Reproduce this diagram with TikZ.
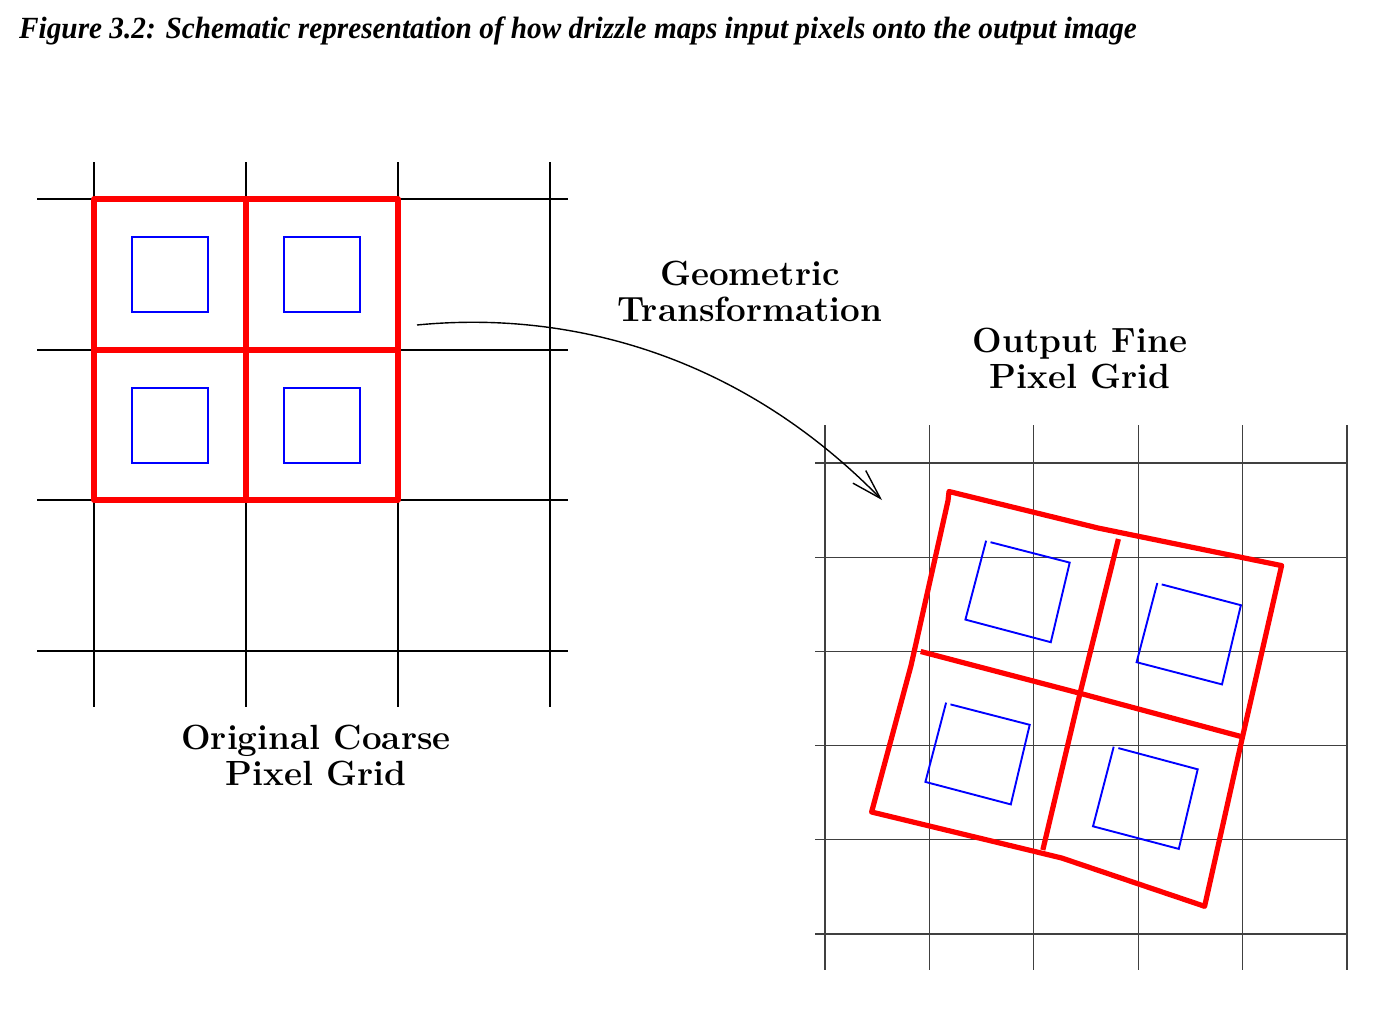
\documentclass[tikz,border=0pt]{standalone}
\usepackage{fontspec}
\newfontfamily\captionfont[FakeStretch=0.95]{Liberation Serif}
\usetikzlibrary{arrows.meta}

\tikzset{
    coarsegrid/.style={line width=1.7pt, black},
    finegrid/.style={line width=1.1pt, black!75},
    pixelred/.style={line width=5.2pt, red, line join=round},
    dropblue/.style={line width=1.9pt, blue},
    gridlabel/.style={font=\fontsize{35}{36}\selectfont\bfseries, align=center, anchor=south, inner sep=0pt}
}

\begin{document}
\begin{tikzpicture}[x=1pt, y=-1pt]

        \useasboundingbox (0,0) rectangle (1378,1010);

        % Caption
        \node[anchor=base west, inner sep=0pt] (caption) at (19,38)
            {\captionfont\fontsize{30.8}{32}\selectfont\bfseries\itshape Figure 3.2: Schematic representation of how drizzle maps input pixels onto the output image};

        % Coarse input grid
        \foreach \x in {94,246,398,550}
            \draw[coarsegrid] (\x,162) -- (\x,707);
        \foreach \y in {199,350,500,651}
            \draw[coarsegrid] (37,\y) -- (568,\y);

        % Input pixels
        \draw[pixelred] (94,199) rectangle (398,500);
        \draw[pixelred] (246,199) -- (246,500);
        \draw[pixelred] (94,350) -- (398,350);

        % Drops
        \foreach \x in {132,284}
            \foreach \y in {237,388}
                \draw[dropblue] (\x,\y) rectangle ++(76,75);

        \node[gridlabel] (coarse) at (316,786) {\fontsize{35}{40}\selectfont Original Coarse\\Pixel Grid};

        % Fine output grid
        \foreach \i in {0,...,5}
            \draw[finegrid] ({825+104.4*\i},425) -- ({825+104.4*\i},970);
        \foreach \i in {0,...,5}
            \draw[finegrid] (815,{463+94.2*\i}) -- (1347,{463+94.2*\i});

        % Transformed pixels
        \draw[pixelred] (949,491.5) -- (1098,528) -- (1281.6,565.6) -- (1242.7,736)
            -- (1204.6,906.3) -- (1061.7,858) -- (871.6,812) -- (911,665.6) -- (948,500.7) -- cycle;
        \draw[pixelred] (1118.4,539) -- (1080,693.3) -- (1042.8,850);
        \draw[pixelred] (920.7,651.5) -- (1080,693.3) -- (1241.7,736.7);

        % Transformed drops
        \draw[dropblue] (990.5,542.2) -- (1069.7,562.6) -- (1050.8,642.2) -- (965.4,619.6) -- (986.1,540.7);
        \draw[dropblue] (1161.7,584.4) -- (1240.9,605.2) -- (1222,684.4) -- (1136.6,662.2) -- (1157.3,583);
        \draw[dropblue] (950.5,704.4) -- (1029.7,724.8) -- (1010.8,804.4) -- (925.4,781.9) -- (946.1,702.6);
        \draw[dropblue] (1118.4,748.1) -- (1197.7,769.3) -- (1178.8,848.9) -- (1093,826.3) -- (1113.7,746.7);

        \node[gridlabel] (fine) at (1080,389) {\fontsize{35}{33}\selectfont Output Fine\\Pixel Grid};

        % Mapping arrow
        \coordinate (from) at (417,325);
        \coordinate (to) at (882,500);
        \draw[line width=1.4pt, -{Straight Barb[length=30pt, width=18pt]}] (from) .. controls (570,310) and (740,355) .. (to);
        \node[gridlabel] (transform) at (750,322) {Geometric\\Transformation};

    \end{tikzpicture}
\end{document}
